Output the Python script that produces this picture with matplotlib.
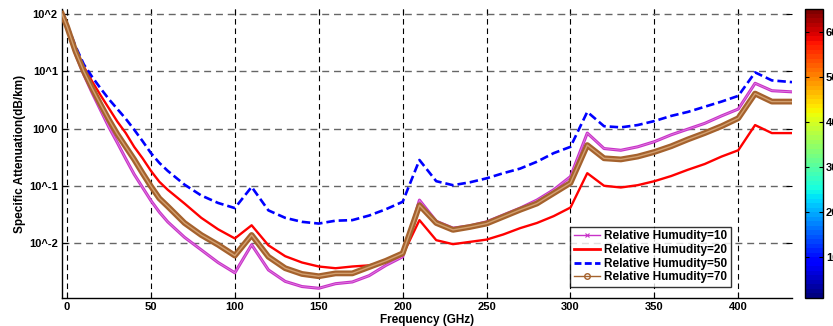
import matplotlib
matplotlib.use('Agg')
import matplotlib.pyplot as plt
import numpy as np
from matplotlib.colors import Normalize
from matplotlib.cm import ScalarMappable
from matplotlib.lines import Line2D
from matplotlib.ticker import NullLocator

plt.rcParams['font.family'] = ['Liberation Sans', 'DejaVu Sans']
plt.rcParams['font.weight'] = 'bold'

# ---------------- data ----------------
freq_ghz = [-3, 0, 5, 10, 15, 20, 25, 30, 35, 40, 45, 50, 55, 60,
            70, 80, 90, 100, 110, 120, 130, 140, 150, 160, 170, 180, 190, 200,
            210, 220, 230, 240, 250, 260, 270, 280, 290, 300, 310, 320, 330,
            340, 350, 360, 370, 380, 390, 400, 410, 420, 432]

# log10 of specific attenuation (dB/km)
rh10_log = [2.0, 1.76, 1.30, 0.94, 0.62, 0.32, 0.02, -0.25, -0.53, -0.80, -1.03, -1.26, -1.46, -1.63,
            -1.90, -2.12, -2.34, -2.52, -2.03, -2.47, -2.67, -2.76, -2.79, -2.71, -2.68, -2.57, -2.39, -2.24,
            -1.25, -1.62, -1.74, -1.70, -1.63, -1.51, -1.39, -1.25, -1.07, -0.84, -0.08, -0.35, -0.38,
            -0.32, -0.23, -0.11, -0.01, 0.09, 0.22, 0.34, 0.79, 0.66, 0.64]
rh20_log = [2.0, 1.80, 1.40, 1.08, 0.82, 0.58, 0.35, 0.12, -0.08, -0.32, -0.52, -0.74, -0.93, -1.07,
            -1.31, -1.56, -1.76, -1.92, -1.69, -2.04, -2.23, -2.34, -2.41, -2.44, -2.41, -2.39, -2.33, -2.21,
            -1.60, -1.95, -2.02, -1.98, -1.94, -1.85, -1.74, -1.65, -1.53, -1.38, -0.78, -1.00, -1.03,
            -0.99, -0.92, -0.83, -0.72, -0.62, -0.49, -0.38, 0.06, -0.08, -0.08]
rh50_log = [2.0, 1.82, 1.44, 1.12, 0.90, 0.70, 0.51, 0.34, 0.17, -0.02, -0.22, -0.43, -0.60, -0.74,
            -0.98, -1.17, -1.30, -1.39, -1.02, -1.43, -1.56, -1.63, -1.66, -1.61, -1.60, -1.52, -1.41, -1.28,
            -0.55, -0.92, -0.99, -0.94, -0.87, -0.78, -0.70, -0.58, -0.43, -0.32, 0.29, 0.04, 0.02,
            0.06, 0.13, 0.22, 0.29, 0.38, 0.47, 0.57, 0.98, 0.84, 0.81]
rh70_log = [2.0, 1.78, 1.35, 1.00, 0.70, 0.42, 0.15, -0.10, -0.32, -0.54, -0.78, -1.01, -1.22, -1.36,
            -1.65, -1.86, -2.03, -2.22, -1.86, -2.24, -2.44, -2.54, -2.58, -2.53, -2.53, -2.42, -2.31, -2.18,
            -1.34, -1.65, -1.77, -1.72, -1.66, -1.54, -1.42, -1.31, -1.13, -0.95, -0.29, -0.52, -0.54,
            -0.49, -0.41, -0.31, -0.19, -0.08, 0.04, 0.18, 0.61, 0.47, 0.47]

labels = ['Relative Humudity=10', 'Relative Humudity=20',
          'Relative Humudity=50', 'Relative Humudity=70']
x_ticks = [0, 50, 100, 150, 200, 250, 300, 350, 400]
y_ticks = [1e-2, 1e-1, 1e0, 1e1, 1e2]
y_tick_labels = ['10^-2', '10^-1', '10^0', '10^1', '10^2']
cbar_ticks = [10, 20, 30, 40, 50, 60]

# ---------------- figure ----------------
W, H = 833, 326
fig = plt.figure(figsize=(W / 100, H / 100), dpi=100)
ax = fig.add_axes([62 / W, 1 - 298 / H, (792 - 62) / W, (298 - 9) / H])
cax = fig.add_axes([805 / W, 1 - 298 / H, 18 / W, (298 - 9) / H])

f = np.array(freq_ghz)
c_mag = '#c832c8'
c_brown = '#a5622d'

ax.plot(f, 10 ** np.array(rh10_log), color=c_mag, lw=2.2, zorder=3)
ax.plot(f, 10 ** np.array(rh10_log), color='#e080e0', lw=0.6, zorder=3)
ax.plot(f, 10 ** np.array(rh20_log), color='red', lw=1.7, zorder=3)
ax.plot(f, 10 ** np.array(rh50_log), color='blue', lw=1.9, dashes=(3.2, 1.5), zorder=3)
ax.plot(f, 10 ** np.array(rh70_log), color=c_brown, lw=4.2, zorder=4)
ax.plot(f, 10 ** np.array(rh70_log), color='#d2a070', lw=1.0, zorder=4)

ax.set_yscale('log')
ax.set_xlim(-3, 432)
ax.set_ylim(10 ** -2.96, 10 ** 2.087)
ax.set_xticks(x_ticks)
ax.set_yticks(y_ticks)
ax.set_yticklabels(y_tick_labels)
ax.yaxis.set_minor_locator(NullLocator())
ax.tick_params(direction='in', length=4, width=0.8, top=True, right=True,
               labelsize=8, pad=3)
for s in ['top', 'right']:
    ax.spines[s].set_visible(False)
for s in ['left', 'bottom']:
    ax.spines[s].set_linewidth(1.0)

ax.grid(True, axis='y', color='#666666', lw=1.0, dashes=(5, 3.5))
ax.grid(True, axis='x', color='black', lw=0.8, dashes=(5, 3.5))
ax.set_axisbelow(True)

ax.set_xlabel('Frequency (GHz)', fontsize=8.5, fontweight='bold', labelpad=1)
ax.set_ylabel('Specific Attenuation(dB/km)', fontsize=8.5, fontweight='bold', labelpad=2)

handles = [
    Line2D([], [], color=c_mag, lw=1.0, marker='x', ms=3, mew=0.8),
    Line2D([], [], color='red', lw=2.0),
    Line2D([], [], color='blue', lw=2.0, dashes=(2.5, 1.2)),
    Line2D([], [], color=c_brown, lw=1.0, marker='o', ms=4, mfc='none', mew=1.0),
]
leg = ax.legend(handles, labels, loc='lower left', bbox_to_anchor=(0.696, 0.038),
                fontsize=8.5, frameon=True, fancybox=False, borderpad=0.3,
                labelspacing=0.15, handlelength=2.2, handletextpad=0.4,
                borderaxespad=0)
leg.get_frame().set_edgecolor('black')
leg.get_frame().set_linewidth(1.0)
leg.set_zorder(10)

sm = ScalarMappable(norm=Normalize(1, 65), cmap=plt.get_cmap('jet', 64))
cb = fig.colorbar(sm, cax=cax)
cb.set_ticks(cbar_ticks)
cb.outline.set_linewidth(1.0)
cax.tick_params(direction='in', length=3, width=0.8, left=True, right=True,
                labelsize=8, pad=2)

fig.savefig('out.png', dpi=100)
